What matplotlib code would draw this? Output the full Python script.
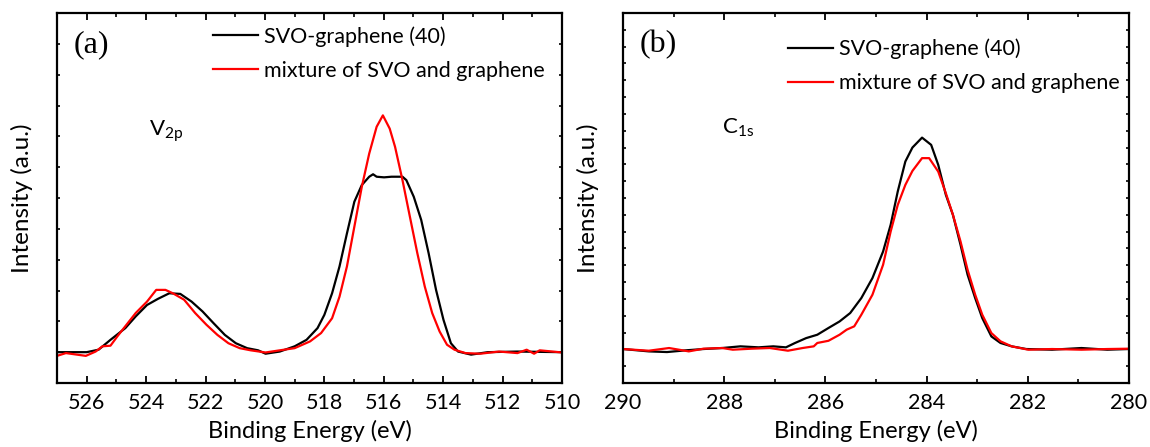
import matplotlib
matplotlib.use("Agg")
import matplotlib.pyplot as plt
from matplotlib.ticker import MultipleLocator, NullFormatter

plt.rcParams['font.family'] = ['Lato', 'DejaVu Sans']

# ---- V 2p region (panel a) ----
v2p_energy_black = [527.0, 526.0, 525.6, 525.2, 524.7, 524.35, 523.97, 523.6, 523.22,
                    522.85, 522.47, 522.1, 521.73, 521.35, 520.98, 520.6, 520.23, 519.98,
                    519.5, 519.0, 518.6, 518.23, 518.0, 517.74, 517.49, 517.24, 516.99,
                    516.74, 516.49, 516.36, 516.24, 515.99, 515.74, 515.37, 515.24,
                    514.99, 514.74, 514.49, 514.24, 513.99, 513.74, 513.5, 513.06, 512.5,
                    511.5, 510.0]
v2p_black = [1.0, 1.0, 1.08, 1.4, 1.78, 2.16, 2.53, 2.73, 2.91,
             2.89, 2.64, 2.32, 1.94, 1.56, 1.29, 1.13, 1.06, 0.95,
             1.02, 1.19, 1.40, 1.78, 2.21, 2.91, 3.78, 4.85, 5.88,
             6.42, 6.69, 6.77, 6.69, 6.67, 6.69, 6.69, 6.58,
             6.04, 5.29, 4.21, 3.02, 2.05, 1.29, 1.02, 0.92, 1.0,
             1.02, 1.0]

v2p_energy_red = [527.0, 526.7, 526.03, 525.7, 525.47, 525.2, 524.97, 524.66, 524.35,
                  523.97, 523.66, 523.35, 523.1, 522.72, 522.35, 521.97, 521.6, 521.23,
                  520.85, 520.48, 519.98, 519.5, 519.0, 518.48, 518.11, 517.74, 517.49,
                  517.24, 516.99, 516.74, 516.49, 516.24, 516.03, 515.8, 515.62, 515.37,
                  515.12, 514.87, 514.62, 514.37, 514.12, 513.87, 513.62, 513.25,
                  512.75, 512.12, 511.5, 511.19, 510.94, 510.75, 510.0]
v2p_red = [0.88, 0.97, 0.88, 1.02, 1.19, 1.21, 1.51, 1.89, 2.27,
           2.64, 3.02, 3.02, 2.91, 2.70, 2.27, 1.89, 1.56, 1.29,
           1.13, 1.06, 0.99, 1.06, 1.13, 1.35, 1.62, 2.10, 2.80,
           3.78, 5.07, 6.36, 7.44, 8.31, 8.68, 8.25, 7.66, 6.58,
           5.39, 4.21, 3.13, 2.27, 1.67, 1.24, 1.08, 0.97,
           0.95, 1.02, 0.97, 1.08, 0.95, 1.06, 0.99]

# ---- C 1s region (panel b) ----
c1s_energy_black = [290.0, 289.49, 289.13, 288.77, 288.41, 288.04, 287.68, 287.32, 287.03,
                    286.78, 286.6, 286.38, 286.16, 285.94, 285.72, 285.51, 285.29, 285.07,
                    284.86, 284.71, 284.57, 284.42, 284.28, 284.09, 283.91, 283.77, 283.62,
                    283.48, 283.33, 283.19, 283.04, 282.9, 282.72, 282.54, 282.32, 282.03,
                    281.52, 280.94, 280.43, 280.0]
c1s_black = [2.02, 1.88, 1.84, 1.94, 2.02, 2.08, 2.18, 2.12, 2.18,
             2.12, 2.38, 2.67, 2.87, 3.27, 3.66, 4.16, 5.05, 6.24,
             7.82, 9.41, 11.39, 13.17, 14.0, 14.59, 14.16, 12.97, 11.19,
             10.0, 8.22, 6.44, 5.05, 3.86, 2.77, 2.38, 2.18, 2.02,
             1.98, 2.08, 1.98, 2.02]

c1s_energy_red = [290.0, 289.49, 289.09, 288.7, 288.41, 288.04, 287.83, 287.46, 287.1,
                  286.74, 286.45, 286.23, 286.16, 285.94, 285.72, 285.58, 285.43, 285.29,
                  285.07, 284.86, 284.71, 284.57, 284.42, 284.28, 284.09, 283.95, 283.77,
                  283.62, 283.48, 283.33, 283.19, 283.04, 282.9, 282.72, 282.54, 282.32,
                  281.99, 281.52, 280.94, 280.43, 280.0]
c1s_red = [2.02, 1.92, 2.08, 1.88, 2.04, 2.08, 1.98, 2.04, 2.08,
           1.92, 2.08, 2.18, 2.38, 2.51, 2.87, 3.17, 3.37, 4.06,
           5.25, 7.03, 9.01, 10.59, 11.78, 12.61, 13.37, 13.37, 12.57,
           11.29, 10.0, 8.42, 6.73, 5.25, 4.06, 2.97, 2.48, 2.18,
           1.98, 2.02, 1.98, 2.02, 2.04]

series_labels = ['SVO-graphene (40)', 'mixture of SVO and graphene']
panel_tags = ['(a)', '(b)']
peak_names = [r'$\mathregular{V_{2p}}$', r'$\mathregular{C_{1s}}$']

fig = plt.figure(figsize=(11.5, 4.47), dpi=100)
ax_a = fig.add_axes([57 / 1150, 64 / 447, 505 / 1150, 370 / 447])
ax_b = fig.add_axes([623 / 1150, 64 / 447, 506 / 1150, 370 / 447])

panels = [
    (ax_a, v2p_energy_black, v2p_black, v2p_energy_red, v2p_red, (527, 510), 12,
     (0.309, 0.965), (0.182, 0.68)),
    (ax_b, c1s_energy_black, c1s_black, c1s_energy_red, c1s_red, (290, 280), 22,
     (0.326, 0.93), (0.196, 0.69)),
]

for i, (ax, xb, yb, xr, yr, xlim, ytop, leg_anchor, name_pos) in enumerate(panels):
    ax.plot(xb, yb, color='black', lw=1.6, label=series_labels[0])
    ax.plot(xr, yr, color='#ff0000', lw=1.6, label=series_labels[1])
    ax.set_xlim(*xlim)
    ax.set_ylim(0, ytop)
    ax.xaxis.set_major_locator(MultipleLocator(2))
    ax.xaxis.set_minor_locator(MultipleLocator(1))
    ax.yaxis.set_major_locator(MultipleLocator(1))
    ax.yaxis.set_major_formatter(NullFormatter())
    ax.tick_params(axis='x', which='major', direction='in', length=5, width=1.3,
                   top=True, labelsize=15.5, pad=7)
    ax.tick_params(axis='x', which='minor', direction='in', length=3, width=1.2, top=True)
    ax.tick_params(axis='y', which='major', direction='in', length=2.5, width=1.2,
                   right=True)
    for sp in ax.spines.values():
        sp.set_linewidth(1.6)
    ax.set_xlabel('Binding Energy (eV)', fontsize=17, labelpad=5)
    ax.set_ylabel('Intensity (a.u.)', fontsize=17.5, labelpad=14)
    ax.legend(loc='upper left', bbox_to_anchor=leg_anchor, frameon=False,
              fontsize=15.5, handlelength=2.1, handletextpad=0.25, borderpad=0,
              borderaxespad=0, labelspacing=0.65)
    ax.text(0.033, 0.915, panel_tags[i], transform=ax.transAxes, fontsize=23,
            family='Liberation Serif', va='center', ha='left')
    ax.text(name_pos[0], name_pos[1], peak_names[i], transform=ax.transAxes,
            fontsize=16, va='center', ha='left')

fig.savefig('out.png', dpi=100)
